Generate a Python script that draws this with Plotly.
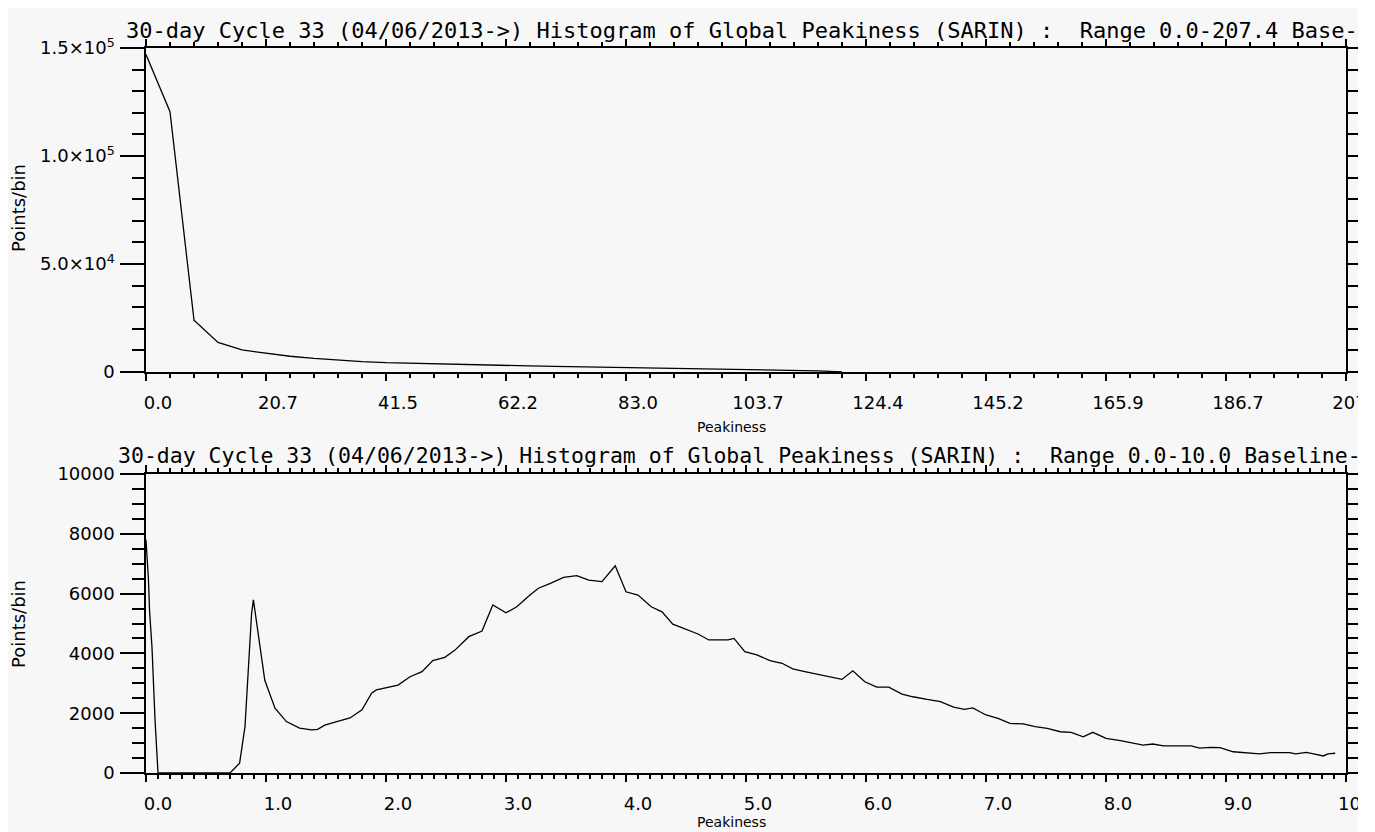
import plotly.graph_objects as go

# ---------------- data ----------------
top_x = [0.0, 4.148, 8.296, 12.44, 16.59, 20.74, 24.89, 29.04, 33.18, 37.33,
         41.48, 45.63, 49.78, 53.92, 58.07, 62.22, 66.37, 70.52, 74.66, 78.81,
         82.96, 87.11, 91.26, 95.40, 99.55, 103.70, 107.85, 112.0, 116.1, 120.3]
top_y = [147000, 120500, 24000, 13700, 10200, 8600, 7300, 6300, 5500, 4800,
         4300, 4000, 3800, 3500, 3200, 3000, 2800, 2600, 2400, 2200,
         2000, 1900, 1700, 1500, 1400, 1200, 1000, 800, 550, 0]

bot_x = [0.0, 0.02, 0.03, 0.05, 0.075, 0.09, 0.1, 0.70, 0.78, 0.825,
         0.853, 0.88, 0.895, 0.92, 0.99, 1.075, 1.17, 1.28, 1.38, 1.43,
         1.49, 1.59, 1.70, 1.80, 1.88, 1.92, 2.0, 2.10, 2.2, 2.30,
         2.39, 2.49, 2.575, 2.69, 2.80, 2.89, 3.0, 3.09, 3.2, 3.27,
         3.37, 3.48, 3.59, 3.69, 3.80, 3.91, 4.0, 4.10, 4.21, 4.30,
         4.39, 4.51, 4.60, 4.69, 4.85, 4.90, 4.99, 5.09, 5.2, 5.30,
         5.39, 5.49, 5.59, 5.70, 5.80, 5.89, 5.99, 6.09, 6.19, 6.30,
         6.39, 6.51, 6.62, 6.73, 6.82, 6.89, 7.0, 7.10, 7.2, 7.31,
         7.41, 7.51, 7.62, 7.71, 7.81, 7.89, 8.0, 8.12, 8.23, 8.31,
         8.39, 8.48, 8.71, 8.78, 8.87, 8.95, 9.06, 9.2, 9.28, 9.37,
         9.53, 9.58, 9.67, 9.73, 9.81, 9.85, 9.91]
bot_y = [7800, 6500, 5400, 4200, 1800, 600, 0, 0, 330, 1550,
         3440, 5340, 5790, 5120, 3100, 2170, 1720, 1500, 1440, 1460,
         1600, 1720, 1840, 2110, 2670, 2780, 2840, 2940, 3220, 3390,
         3760, 3870, 4110, 4560, 4750, 5620, 5360, 5560, 5950, 6180,
         6340, 6540, 6600, 6450, 6400, 6930, 6060, 5950, 5560, 5390,
         4980, 4780, 4650, 4450, 4450, 4500, 4060, 3950, 3760, 3670,
         3480, 3390, 3310, 3220, 3130, 3420, 3050, 2870, 2870, 2640,
         2550, 2460, 2390, 2200, 2130, 2180, 1940, 1830, 1660, 1640,
         1550, 1490, 1380, 1360, 1210, 1360, 1160, 1080, 990, 930,
         970, 910, 910, 830, 860, 850, 710, 680, 640, 680,
         680, 640, 690, 640, 570, 640, 660]

top_xtick_vals = [0.0, 20.74, 41.48, 62.22, 82.96, 103.7, 124.44, 145.18, 165.92, 186.66, 207.4]
top_xtick_text = ["0.0", "20.7", "41.5", "62.2", "83.0", "103.7", "124.4", "145.2", "165.9", "186.7", "207.4"]
top_ytick_vals = [0, 50000, 100000, 150000]
top_ytick_text = ["0", "5.0×10<sup>4</sup>", "1.0×10<sup>5</sup>", "1.5×10<sup>5</sup>"]

bot_xtick_vals = [0, 1, 2, 3, 4, 5, 6, 7, 8, 9, 10]
bot_xtick_text = ["0.0", "1.0", "2.0", "3.0", "4.0", "5.0", "6.0", "7.0", "8.0", "9.0", "10.0"]
bot_ytick_vals = [0, 2000, 4000, 6000, 8000, 10000]
bot_ytick_text = ["0", "2000", "4000", "6000", "8000", "10000"]

title_top = "30-day Cycle 33 (04/06/2013->) Histogram of Global Peakiness (SARIN) :  Range 0.0-207.4 Base-B"
title_bot = "30-day Cycle 33 (04/06/2013->) Histogram of Global Peakiness (SARIN) :  Range 0.0-10.0 Baseline-"
x_title = "Peakiness"
y_title = "Points/bin"

# ---------------- style ----------------
BG = "#f7f7f7"
INK = "#000000"
TICKFONT = dict(family="DejaVu Sans", size=18, color=INK)
TITLEFONT_TOP = dict(family="DejaVu Sans Mono", size=22, color=INK)
TITLEFONT_BOT = dict(family="DejaVu Sans Mono", size=21.5, color=INK)
XTFONT = dict(family="DejaVu Sans", size=14, color=INK)
YTFONT = dict(family="DejaVu Sans", size=18, color=INK)

W, H = 1350, 824
ML, MR, MT, MB = 138, 12, 40, 59
PH = H - MT - MB  # 725
top_dom = [1 - 324 / PH, 1.0]
bot_dom = [0.0, 299 / PH]


def sx(px):  # screen x -> paper fraction
    return (px - 146) / 1200.0


def sy(py):  # screen y -> paper fraction
    return (773 - py) / PH


fig = go.Figure()
fig.add_trace(go.Scatter(x=top_x, y=top_y, mode="lines", line=dict(color=INK, width=1.3),
                         xaxis="x", yaxis="y", hoverinfo="skip"))
fig.add_trace(go.Scatter(x=bot_x, y=bot_y, mode="lines", line=dict(color=INK, width=1.3),
                         xaxis="x2", yaxis="y2", hoverinfo="skip"))

common_x = dict(showgrid=False, zeroline=False, ticks="outside", ticklen=7, tickwidth=1.5,
                tickcolor=INK, showline=True, linecolor=INK, linewidth=1.5, mirror="ticks",
                tickfont=TICKFONT, ticklabelshift=12, ticklabelstandoff=7,
                ticklabeloverflow="allow")
common_y = dict(showgrid=False, zeroline=False, ticks="outside", ticklen=24, tickwidth=1.5,
                tickcolor=INK, showline=True, linecolor=INK, linewidth=1.5, mirror="ticks",
                tickfont=TICKFONT, ticklabelstandoff=2)

fig.update_layout(
    width=W, height=H,
    margin=dict(l=ML, r=MR, t=MT, b=MB, autoexpand=False),
    paper_bgcolor=BG, plot_bgcolor=BG,
    showlegend=False,
    xaxis=dict(domain=[0, 1], anchor="y", range=[0, 207.4],
               tickmode="array", tickvals=top_xtick_vals, ticktext=top_xtick_text,
               minor=dict(ticks="outside", ticklen=4, tickwidth=1.5, tickcolor=INK,
                          tick0=0, dtick=4.148, showgrid=False),
               **common_x),
    yaxis=dict(domain=top_dom, anchor="x", range=[0, 150000],
               tickmode="array", tickvals=top_ytick_vals, ticktext=top_ytick_text,
               minor=dict(ticks="outside", ticklen=12, tickwidth=1.5, tickcolor=INK,
                          tick0=0, dtick=10000, showgrid=False),
               **common_y),
    xaxis2=dict(domain=[0, 1], anchor="y2", range=[0, 10],
                tickmode="array", tickvals=bot_xtick_vals, ticktext=bot_xtick_text,
                minor=dict(ticks="outside", ticklen=4, tickwidth=1.5, tickcolor=INK,
                           tick0=0, dtick=0.1, showgrid=False),
                **common_x),
    yaxis2=dict(domain=bot_dom, anchor="x2", range=[0, 10000],
                tickmode="array", tickvals=bot_ytick_vals, ticktext=bot_ytick_text,
                minor=dict(ticks="outside", ticklen=12, tickwidth=1.5, tickcolor=INK,
                           tick0=0, dtick=500, showgrid=False),
                **common_y),
)

ann = [
    dict(text=title_top, x=sx(124), y=sy(30), xanchor="left", yanchor="middle", font=TITLEFONT_TOP),
    dict(text=title_bot, x=sx(116), y=sy(456), xanchor="left", yanchor="middle", font=TITLEFONT_BOT),
    dict(text=x_title, x=sx(731), y=sy(427), xanchor="center", yanchor="middle", font=XTFONT),
    dict(text=x_title, x=sx(731), y=sy(822), xanchor="center", yanchor="middle", font=XTFONT),
    dict(text=y_title, x=sx(18), y=sy(208), xanchor="center", yanchor="middle", font=YTFONT, textangle=-90),
    dict(text=y_title, x=sx(18), y=sy(624), xanchor="center", yanchor="middle", font=YTFONT, textangle=-90),
]
for a in ann:
    a.update(xref="paper", yref="paper", showarrow=False)
fig.update_layout(annotations=ann)

fig.write_html("out.html", config={"displayModeBar": False})
